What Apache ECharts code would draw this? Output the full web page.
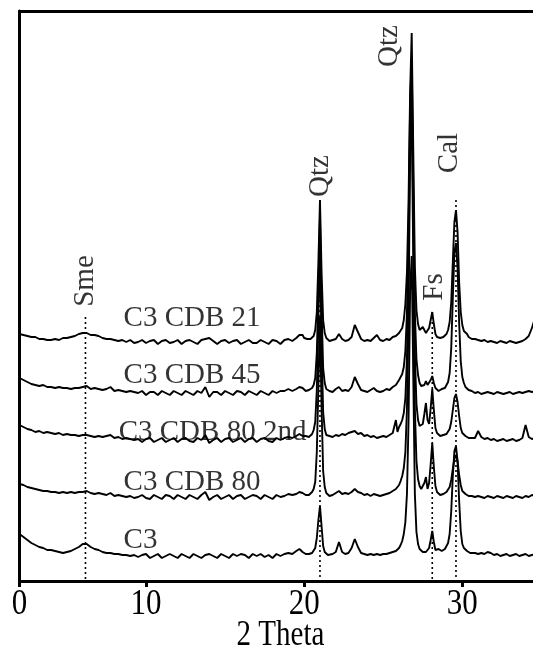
<!DOCTYPE html>
<html><head><meta charset="utf-8">
<script src="https://cdn.jsdelivr.net/npm/echarts@6/dist/echarts.min.js"></script>
<style>html,body{margin:0;padding:0;background:#fff}#chart{width:533px;height:646px}</style>
</head><body><div id="chart"></div>
<script>
// 2θ sampling (degrees)
const twoTheta = [
  2,2.25,2.5,2.75,3,3.25,3.5,3.75,4,4.25,
  4.5,4.75,5,5.25,5.5,5.75,6,6.25,6.5,6.75,
  7,7.25,7.5,7.75,8,8.25,8.5,8.75,9,9.25,
  9.5,9.75,10,10.25,10.5,10.75,11,11.25,11.5,11.75,
  12,12.25,12.5,12.75,13,13.25,13.5,13.75,14,14.25,
  14.5,14.75,15,15.25,15.5,15.75,16,16.25,16.5,16.75,
  17,17.25,17.5,17.75,18,18.25,18.5,18.75,19,19.25,
  19.5,
  19.6,19.7,19.8,19.9,20.0,20.1,20.2,20.3,20.4,20.5,20.6,20.7,20.8,20.9,21.0,21.1,21.2,21.3,21.4,21.5,21.6,
  21.8,22.0,22.2,22.4,22.6,22.8,23.0,23.2,23.4,23.6,23.8,24.0,24.2,24.4,24.6,24.8,25.0,25.2,25.4,25.6,25.8,
  25.9,26.0,26.1,26.2,26.3,26.4,26.5,26.6,26.7,26.8,26.9,27.0,27.1,27.2,27.3,27.4,27.5,27.6,27.7,27.8,
  27.9,28.0,28.1,28.2,28.3,28.4,28.5,28.6,28.7,28.8,28.9,29.0,29.1,29.2,29.3,29.4,29.5,29.6,29.7,29.8,
  29.9,30.0,30.1,30.2,30.3,30.4,30.5,30.6,
  30.8,31.0,31.2,31.4,31.6,31.8,32.0,32.2,32.4,32.6,32.8,33.0,33.2,33.4,33.6,33.8,34.0,34.2,34.4,34.6,34.8,35.0
];

// Sample names, top to bottom
const sampleNames = ['C3 CDB 21', 'C3 CDB 45', 'C3 CDB 80 2nd', 'C3 CDB 80', 'C3'];

// Intensities above each pattern's own background (a.u.)
const intC3CDB21 = [
  8,7,6,5,5,3,3,2,2,3,
  2,4,4,5,6,8,9,9,7,7,
  6,4,3,3,2,1,2,0,2,-1,
  0,2,-1,1,2,-2,1,2,-1,0,
  2,-2,1,2,0,-2,2,3,4,1,
  -2,1,2,-1,1,2,-2,0,2,-1,
  -1,2,0,-2,2,1,-2,2,3,1,
  4,
  5,7,9,7,4,2,3,2,3,4,6,12,30,80,142,70,22,9,4,2,1,
  2,3,8,3,1,2,5,17,10,3,1,2,1,4,7,2,1,3,2,5,6,
  6,9,10,14,22,38,70,140,250,309,190,75,32,18,12,12,15,13,9,10,
  14,22,30,18,8,5,4,4,5,5,6,8,12,20,40,80,120,132,110,60,
  30,17,11,9,8,5,4,3,
  3,2,1,2,0,1,0,-1,1,0,-1,1,0,-1,0,1,3,6,14,24,30,22
];
const intC3CDB45 = [
  15,13,11,9,8,7,8,6,6,5,
  6,5,5,4,5,5,6,7,4,5,
  4,3,4,6,2,3,2,1,2,1,
  0,2,-2,1,1,-2,2,0,-2,2,
  0,-2,2,0,-2,2,0,6,-4,1,
  1,-2,2,0,-2,2,1,-2,2,0,
  -2,2,0,-2,2,0,2,2,4,2,
  4,
  5,6,7,5,3,2,3,3,4,5,8,15,40,100,175,85,25,10,4,3,2,
  1,4,6,2,3,2,6,16,9,3,2,1,3,5,2,1,2,4,3,6,8,
  10,13,15,19,26,42,80,160,290,333,205,80,34,18,10,7,5,8,12,8,
  9,13,17,10,5,3,2,3,4,4,5,7,11,20,45,95,140,150,125,70,
  32,16,10,6,4,3,1,2,
  0,1,-1,0,1,0,-1,1,0,-1,0,1,-1,0,1,0,1,2,1,2,3,2
];
const intC3CDB80b = [
  15,13,11,10,8,9,7,8,7,6,
  7,5,6,5,5,4,5,5,4,3,
  4,3,4,5,2,3,1,2,1,0,
  1,-2,1,2,-2,0,2,-2,0,2,
  -2,1,2,-1,-2,2,0,5,-3,0,
  2,-2,1,2,-2,0,2,-2,1,2,
  -2,1,2,-1,-2,2,0,2,3,2,
  4,
  5,6,5,4,3,4,2,3,5,6,10,18,50,120,195,95,28,11,5,3,4,
  3,5,4,6,5,7,8,9,6,7,4,5,3,4,2,3,4,3,5,7,20,
  8,13,16,20,27,42,82,170,320,362,220,85,36,20,14,13,16,26,37,20,
  16,32,51,30,12,7,5,4,4,5,5,6,8,11,18,30,42,46,38,24,
  12,7,5,4,3,2,3,2,
  2,9,3,1,2,0,1,-1,0,1,-1,0,1,-1,0,2,15,3,1,2,0,1
];
const intC3CDB80 = [
  13,12,10,9,8,7,6,6,5,5,
  4,5,4,5,4,5,5,6,4,3,
  4,3,2,4,1,2,1,0,1,-1,
  0,2,-1,-2,2,0,-2,2,1,-2,
  2,0,-2,2,0,-2,2,5,-3,0,
  2,-2,0,2,-2,1,2,-2,0,2,
  1,-2,2,0,-2,2,0,1,3,2,
  3,
  4,5,6,4,3,2,3,2,4,5,8,15,45,110,180,90,26,10,4,2,1,
  2,4,6,3,4,3,5,8,5,4,2,3,1,3,2,1,2,3,4,6,8,
  9,12,16,21,29,45,88,180,345,388,235,88,36,18,11,8,8,14,20,8,
  14,33,54,30,11,5,3,2,3,3,4,5,7,10,17,28,38,42,36,22,
  12,6,4,3,2,1,2,1,
  0,1,0,-1,1,0,-1,1,0,-1,1,0,-1,1,0,-1,1,0,2,1,0,1
];
const intC3 = [
  22,19,16,13,11,9,8,6,6,5,
  4,3,4,5,7,9,12,12,9,7,
  6,4,3,3,2,2,1,1,0,1,
  -1,1,2,-2,0,2,-2,0,2,0,
  -2,2,0,-2,2,0,-2,1,2,0,
  -2,2,0,-2,2,0,2,1,-2,2,
  0,2,-1,1,-2,2,0,2,3,2,
  5,
  6,7,6,4,3,2,1,2,3,3,5,8,18,36,50,30,10,4,2,1,2,
  2,4,14,4,2,3,8,17,9,3,2,1,2,1,2,1,2,2,3,4,5,
  6,8,11,15,22,34,62,135,265,300,180,62,24,12,7,5,4,4,4,5,
  8,16,25,14,6,5,7,5,5,6,7,9,13,22,45,80,105,110,95,55,
  25,12,8,6,5,4,3,4,
  3,2,3,2,4,3,1,2,0,1,2,0,1,2,0,1,2,0,1,2,1,2
];

// Vertical stacking of the patterns (a.u.)
const stackOffsets = [239, 188, 141, 84, 25];

// Reflections marked on the patterns
const peakNames = ['Sme', 'Qtz', 'Qtz', 'Fs', 'Cal'];
const peakTwoTheta = [6.17, 21.0, 26.8, 28.1, 29.6];

// x-axis ticks and their printed labels
const xTickValues = [2, 10, 20, 30];
const xTickLabels = ['0', '10', '20', '30'];
const xAxisTitle = '2 Theta';

// ---- layout ----
const FONT = '"Liberation Serif","Times New Roman",serif';
const X_MIN = 2, X_MAX = 34.47, X_END = 35;   // X_END: far end of the full scan
const intensities = [intC3CDB21, intC3CDB45, intC3CDB80b, intC3CDB80, intC3];
const nameAnchor = [[8.58, 263], [8.58, 206], [8.27, 149], [8.58, 99], [8.58, 41]];
const captionAnchor = [[6.17, 300], [21.0, 405], [25.4, 535], [28.24, 294], [29.2, 428]];
const guideTop = [264, 381, null, 269, 381];

const series = [];
intensities.forEach((vals, i) => {
  series.push({
    type: 'line', name: sampleNames[i], symbol: 'none', silent: true,
    data: twoTheta.map((x, j) => [x, vals[j] + stackOffsets[i]]),
    lineStyle: { color: '#000', width: 1.9 }, z: 3
  });
});
peakTwoTheta.forEach((x, i) => {
  if (guideTop[i] == null) return;
  series.push({
    type: 'line', symbol: 'none', silent: true,
    data: [[x, guideTop[i]], [x, 0]],
    lineStyle: { color: '#000', width: 1.6, type: [2, 3] }, z: 2
  });
});
series.push({
  type: 'scatter', symbolSize: 0, silent: true,
  data: captionAnchor.map((p, i) => ({ value: p, name: peakNames[i] })),
  label: { show: true, position: 'inside', rotate: 90, formatter: p => p.name,
    fontFamily: FONT, fontSize: 29, color: '#000' }
});
series.push({
  type: 'scatter', symbolSize: 0, silent: true,
  data: nameAnchor.map((p, i) => ({ value: p, name: sampleNames[i] })),
  label: { show: true, position: 'right', distance: 0, formatter: p => p.name,
    fontFamily: FONT, fontSize: 29, color: '#000' }
});

const frame = { show: true, lineStyle: { color: '#000', width: 3 } };
const chart = echarts.init(document.getElementById('chart'), null, { renderer: 'canvas' });
chart.setOption({
  animation: false,
  backgroundColor: '#fff',
  grid: { left: 19.5, right: 0, top: 11, bottom: 65, show: false },
  xAxis: [{
    type: 'value', min: X_MIN, max: X_MAX,
    axisLine: frame,
    axisTick: { show: true, customValues: xTickValues, length: 6, lineStyle: { color: '#000', width: 3 } },
    axisLabel: { show: false },
    splitLine: { show: false }
  }, {
    type: 'value', position: 'top', min: X_MIN, max: X_MAX,
    axisLine: frame, axisTick: { show: false }, axisLabel: { show: false }, splitLine: { show: false }
  }],
  yAxis: { type: 'value', min: 0, max: 570, axisLine: frame, axisTick: { show: false },
    axisLabel: { show: false }, splitLine: { show: false } },
  series
});

// Tick labels and axis title use tall serif lettering, placed from the x scale
const axisY = chart.convertToPixel({ yAxisIndex: 0 }, 0);
const tallText = (text, x, y, size, stretch) => ({
  type: 'text', x, y, originX: 0, originY: 0, scaleY: stretch, silent: true,
  style: { text, fontFamily: FONT, fontSize: size, fill: '#000', align: 'center', verticalAlign: 'top' }
});
const graphics = xTickValues.map((v, i) =>
  tallText(xTickLabels[i], chart.convertToPixel({ xAxisIndex: 0 }, v), axisY + 6, 31, 1.15));
graphics.push(tallText(xAxisTitle, chart.convertToPixel({ xAxisIndex: 0 }, (X_MIN + X_END) / 2), axisY + 37, 29, 1.2));
chart.setOption({ graphic: graphics });
</script></body></html>
